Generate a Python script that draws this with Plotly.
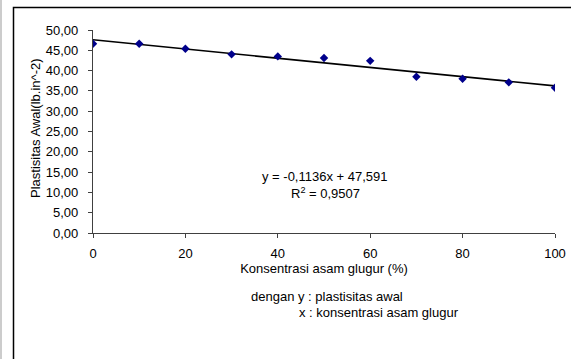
import plotly.graph_objects as go

konsentrasi = [0, 10, 20, 30, 40, 50, 60, 70, 80, 90, 100]
plastisitas = [46.6, 46.6, 45.4, 44.0, 43.5, 43.1, 42.4, 38.5, 38.0, 37.1, 35.8]
slope = -0.1136
intercept = 47.591
r2 = 0.9507
y_ticks = [0, 5, 10, 15, 20, 25, 30, 35, 40, 45, 50]
x_ticks = [0, 20, 40, 60, 80, 100]

trend_x = [konsentrasi[0], konsentrasi[-1]]
trend_y = [slope * x + intercept for x in trend_x]

font = "Liberation Sans, Arial, sans-serif"
FS = 13
W, H = 571, 359
L, R, T, B = 93, 16, 30, 126
pw, ph = W - L - R, H - T - B

def px(x):
    return (x - L) / pw

def py(y):
    return (H - B - y) / ph

fig = go.Figure()
fig.add_trace(go.Scatter(x=trend_x, y=trend_y, mode="lines",
                         line=dict(color="black", width=1.6), hoverinfo="skip"))
fig.add_trace(go.Scatter(x=konsentrasi, y=plastisitas, mode="markers",
                         marker=dict(symbol="diamond", size=6.5, color="#00008B")))

fig.update_layout(
    width=W, height=H,
    margin=dict(l=L, r=R, t=T, b=B, autoexpand=False),
    paper_bgcolor="white", plot_bgcolor="white",
    showlegend=False,
    separators=",.",
    font=dict(family=font, size=FS, color="black"),
    xaxis=dict(range=[0, 100], tickvals=x_ticks, showgrid=False, zeroline=False,
               automargin=False, ticklabelstandoff=4,
               showline=True, linecolor="#404040", linewidth=1.2,
               ticks="outside", ticklen=4, tickcolor="#404040",
               tickfont=dict(family=font, size=FS),
               title=dict(text="Konsentrasi asam glugur (%)", standoff=0,
                          font=dict(family=font, size=FS))),
    yaxis=dict(range=[0, 50], tickvals=y_ticks, tickformat=".2f", showgrid=False,
               automargin=False, ticklabelstandoff=7,
               zeroline=False, showline=True, linecolor="#404040", linewidth=1.2,
               ticks="outside", ticklen=4, tickcolor="#404040",
               tickfont=dict(family=font, size=FS)),
)

fig.add_annotation(xref="paper", yref="paper", x=px(35), y=py(128),
                   xanchor="center", yanchor="middle",
                   text="Plastisitas Awal(lb.in^-2)", textangle=-90,
                   showarrow=False, font=dict(family=font, size=FS))
fig.add_annotation(xref="paper", yref="paper", x=px(325), y=py(186),
                   text=f"y = {str(slope).replace('.', ',')}x + {str(intercept).replace('.', ',')}",
                   showarrow=False, font=dict(family=font, size=FS))
fig.add_annotation(xref="paper", yref="paper", x=px(325), y=py(203),
                   text=f"R<sup>2</sup> = {str(r2).replace('.', ',')}",
                   showarrow=False, font=dict(family=font, size=FS))
fig.add_annotation(xref="paper", yref="paper", x=px(249), y=py(306), xanchor="left",
                   text="dengan y : plastisitas awal",
                   showarrow=False, font=dict(family=font, size=FS))
fig.add_annotation(xref="paper", yref="paper", x=px(297), y=py(322), xanchor="left",
                   text="x : konsentrasi asam glugur",
                   showarrow=False, font=dict(family=font, size=FS))

# outer chart border
fig.add_shape(type="rect", xref="paper", yref="paper",
              x0=px(13.5), x1=px(600), y0=py(7.5), y1=py(400),
              line=dict(color="black", width=1.5), layer="below")
fig.add_shape(type="line", xref="paper", yref="paper",
              x0=px(1), x1=px(1), y0=py(0), y1=py(359),
              line=dict(color="#999999", width=1))

fig.write_html("out.html")
